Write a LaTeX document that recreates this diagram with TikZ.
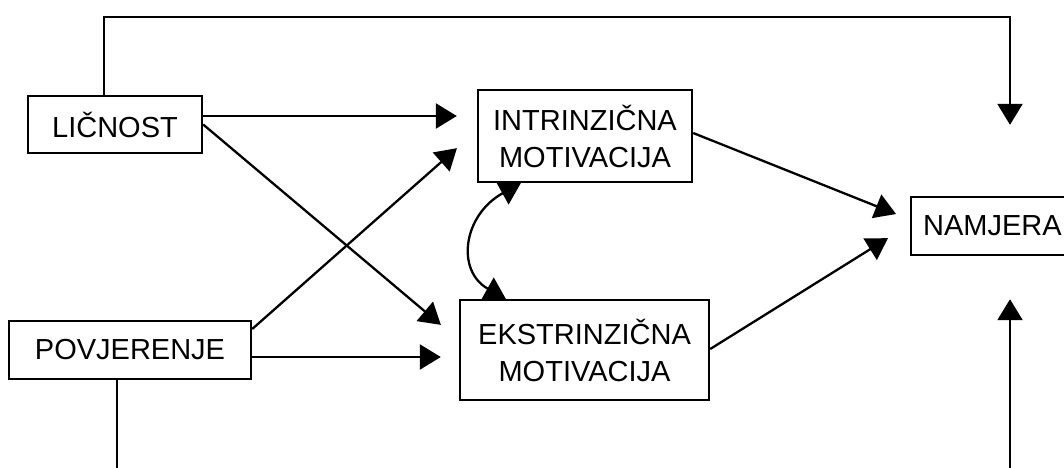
\documentclass[tikz,border=0pt]{standalone}
\usepackage{fontspec}
\setmainfont{Liberation Sans}
\usetikzlibrary{arrows.meta}

\begin{document}
\begin{tikzpicture}[x=1pt,y=1pt,
	>={Triangle[length=21pt,width=25pt]},
	box/.style={draw, line width=2.4pt, align=center, inner sep=0pt, font=\fontsize{29}{37}\selectfont},
	arr/.style={line width=2.3pt, ->}]
	\useasboundingbox (0,0) rectangle (1064,-467);
	\clip (0,0) rectangle (1064,-467);
	\node[box, minimum width=174pt, minimum height=57pt] (lic) at (115,-124.5) {LIČNOST};
	\node[box, minimum width=242pt, minimum height=58pt] (pov) at (130,-350) {POVJERENJE};
	\node[box, minimum width=214pt, minimum height=92pt] (int) at (585,-136) {INTRINZIČNA\\MOTIVACIJA};
	\node[box, minimum width=249pt, minimum height=100pt] (eks) at (584.5,-350) {EKSTRINZIČNA\\MOTIVACIJA};
	\node[box, anchor=west, inner xsep=12pt, text width=158pt, align=left, minimum height=58pt] (nam) at (910,-226) {NAMJERA};
	\draw[arr, shorten >=20pt] ([yshift=8.5pt]lic.east) -- ([yshift=20pt]int.west);
	\draw[arr, shorten >=23.5pt] (lic.east) -- ([yshift=10pt]eks.west);
	\draw[arr, shorten >=26.5pt] ([yshift=21pt]pov.east) -- ([yshift=5.4pt]int.west);
	\draw[arr, shorten >=18pt] ([yshift=-7pt]pov.east) -- ([yshift=-7pt]eks.west);
	\draw[arr, shorten >=15pt] ([yshift=3pt]int.east) -- ([yshift=6.4pt]nam.west);
	\draw[arr, shorten >=26pt] ([yshift=1pt]eks.east) -- ([yshift=1.6pt]nam.west);
	\draw[arr, <->] ([xshift=44pt]int.south west) .. controls +(-58,-32) and +(-50,28) .. ([xshift=47pt]eks.north west);
	\draw[arr, shorten >=71pt] ([xshift=-11pt]lic.north) -- ++(0,78) -| ([xshift=100pt]nam.north west);
	\draw[arr, shorten >=43pt] ([xshift=-13pt]pov.south) -- ++(0,-120) -| ([xshift=100pt]nam.south west);
\end{tikzpicture}
\end{document}
